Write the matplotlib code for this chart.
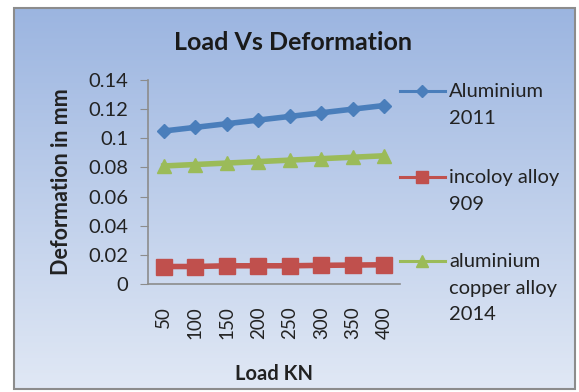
import numpy as np
import matplotlib.pyplot as plt
from matplotlib.patches import Rectangle
from matplotlib.lines import Line2D

# chart data
loads = ["50", "100", "150", "200", "250", "300", "350", "400"]
aluminium_2011 = [0.105, 0.1075, 0.11, 0.1125, 0.115, 0.1175, 0.12, 0.1225]
incoloy_909 = [0.012, 0.012, 0.0125, 0.0125, 0.0125, 0.0128, 0.013, 0.0132]
al_cu_2014 = [0.081, 0.082, 0.083, 0.084, 0.085, 0.086, 0.087, 0.088]
series_names = ["Aluminium\n2011", "incoloy alloy\n909", "aluminium\ncopper alloy\n2014"]

plt.rcParams['font.family'] = ['Lato', 'DejaVu Sans']
W, H = 579, 392
fig = plt.figure(figsize=(W / 100, H / 100), dpi=100)
fig.patch.set_facecolor("white")

# gradient chart area background
bg = fig.add_axes([0, 0, 1, 1], zorder=0)
bg.set_xlim(0, W)
bg.set_ylim(H, 0)
bg.axis("off")
top = np.array([0.61, 0.71, 0.88])
bot = np.array([0.88, 0.91, 0.96])
t = np.linspace(0, 1, 256)[:, None]
grad = (top * (1 - t) + bot * t)[:, None, :].repeat(2, axis=1)
bg.imshow(grad, extent=[14, 575, 389, 8], aspect="auto", interpolation="bilinear")
bg.add_patch(Rectangle((14, 8), 561, 381, fill=False, edgecolor="#8c8c8c", lw=1.5))

ax = fig.add_axes([148 / W, 1 - 284 / H, 252 / W, 204 / H], zorder=1)
ax.patch.set_alpha(0)

x = np.arange(len(loads)) + 0.5
styles = [
    (aluminium_2011, "#4a7ebb", "D", 7.5),
    (incoloy_909, "#c0504d", "s", 11),
    (al_cu_2014, "#9bbb59", "^", 10.5),
]
for vals, col, mk, ms in styles:
    ax.plot(x, vals, color=col, lw=4, marker=mk, markersize=ms,
            markerfacecolor=col, markeredgecolor=col)

ax.set_xlim(0, len(loads))
ax.set_ylim(0, 0.14)
ax.set_yticks(np.arange(0, 0.141, 0.02))
ax.set_yticklabels(["0", "0.02", "0.04", "0.06", "0.08", "0.1", "0.12", "0.14"])
ax.set_xticks(x)
ax.set_xticklabels(loads, rotation=90, va="top")
for s in ["top", "right"]:
    ax.spines[s].set_visible(False)
for s in ["left", "bottom"]:
    ax.spines[s].set_color("#8c8c8c")
    ax.spines[s].set_linewidth(1.2)
ax.tick_params(axis="y", length=6, color="#8c8c8c", pad=8, labelsize=14.5, labelcolor="#222222")
ax.tick_params(axis="x", length=0, pad=16, labelsize=13.5, labelcolor="#222222")

ax.set_ylabel("Deformation in mm", fontsize=15.5, fontweight="bold", color="#222222", labelpad=12)
ax.set_xlabel("Load KN", fontsize=14.5, fontweight="bold", color="#222222", labelpad=18)
fig.text(293 / W, 1 - 43 / H, "Load Vs Deformation", ha="center", va="center",
         fontsize=18, fontweight="bold", color="#1a1a1a")

# legend drawn by hand so the marker sits on the first text line
legend_y = [91, 177, 261]
for (vals, col, mk, ms), name, ly in zip(styles, series_names, legend_y):
    yf = 1 - ly / H
    fig.add_artist(Line2D([400 / W, 445 / W], [yf, yf], color=col, lw=2.2,
                          transform=fig.transFigure))
    fig.add_artist(Line2D([422 / W], [yf], color=col, marker=mk, markersize=ms * 0.85,
                          transform=fig.transFigure))
    fig.text(449 / W, 1 - (ly - 8) / H, name, ha="left", va="top", fontsize=14.5,
             color="#222222", linespacing=1.68, transform=fig.transFigure)

fig.savefig("out.png", dpi=100)
